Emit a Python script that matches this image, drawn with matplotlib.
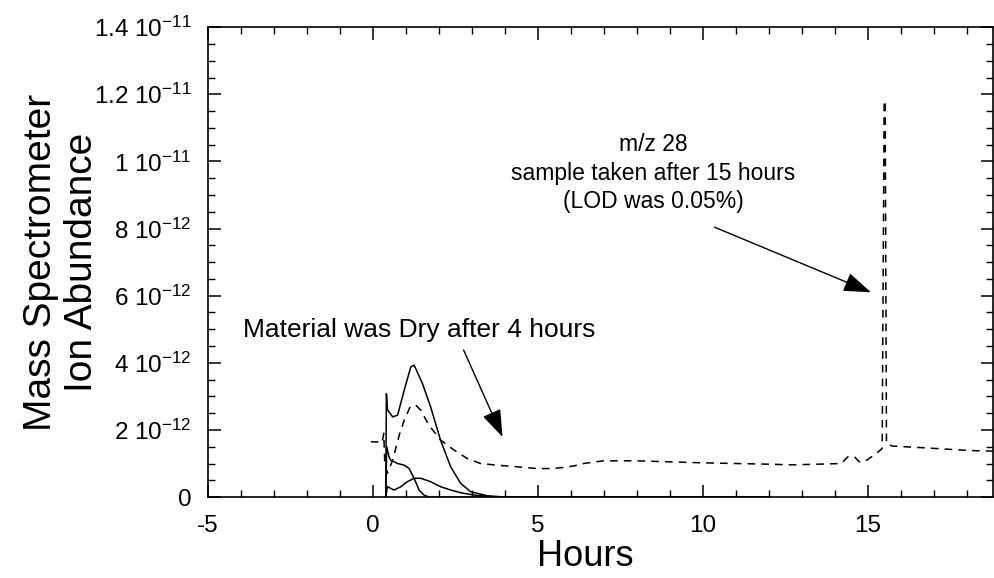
import matplotlib
matplotlib.use("Agg")
import matplotlib.pyplot as plt
import numpy as np

# values, abundance in units of 1e-12
hours_mz28 = [-0.06, 0.15, 0.28, 0.33, 0.36, 0.44, 0.6, 0.8, 0.95, 1.13, 1.3, 1.45, 1.7, 2.05, 2.46,
              2.86, 3.26, 3.77, 4.4, 4.97, 5.4, 5.77, 6.1, 6.38, 6.98, 8.0, 9.0, 10.0, 11.0, 12.0, 12.7,
              13.5, 14.2, 14.4, 14.6, 14.75, 14.9, 15.26, 15.44, 15.5, 15.53, 15.57, 15.74, 16.5,
              17.37, 17.85, 18.3, 18.8]
abund_mz28 = [1.65, 1.64, 1.62, 1.9, 1.0, 0.71, 1.1, 1.85, 2.29, 2.69, 2.74, 2.59, 2.14, 1.7, 1.4,
              1.15, 1.0, 0.95, 0.9, 0.85, 0.85, 0.88, 0.93, 1.0, 1.08, 1.08, 1.05, 1.02, 1.0, 0.98, 0.96,
              0.98, 1.0, 1.2, 1.2, 1.05, 1.05, 1.3, 1.45, 11.8, 11.8, 1.6, 1.52, 1.48,
              1.43, 1.4, 1.38, 1.37]

hours_a = [0.39, 0.41, 0.44, 0.6, 0.75, 0.95, 1.15, 1.25, 1.5, 1.75, 2.05, 2.36, 2.66, 2.96, 3.46, 4.0, 12.0]
abund_a = [0.0, 3.08, 2.6, 2.39, 2.44, 3.19, 3.88, 3.93, 3.39, 2.69, 1.7, 0.9, 0.41, 0.16, 0.04, 0.0, 0.0]

hours_b = [0.39, 0.42, 0.49, 0.54, 0.75, 0.95, 1.1, 1.25, 1.4, 1.55, 1.7, 12.0]
abund_b = [0.0, 1.5, 1.2, 1.1, 1.0, 0.95, 0.85, 0.56, 0.21, 0.06, 0.0, 0.0]

hours_c = [0.39, 0.44, 0.64, 0.85, 1.05, 1.25, 1.45, 1.75, 2.05, 2.36, 2.66, 3.06, 3.6, 12.0]
abund_c = [0.0, 0.31, 0.21, 0.31, 0.46, 0.56, 0.56, 0.46, 0.31, 0.21, 0.13, 0.06, 0.01, 0.0]

x_ticks = [-5, 0, 5, 10, 15]
x_tick_labels = ["-5", "0", "5", "10", "15"]
y_ticks = [0, 2e-12, 4e-12, 6e-12, 8e-12, 1e-11, 1.2e-11, 1.4e-11]
y_tick_labels = ["0", "2 10$^{-12}$", "4 10$^{-12}$", "6 10$^{-12}$", "8 10$^{-12}$",
                 "1 10$^{-11}$", "1.2 10$^{-11}$", "1.4 10$^{-11}$"]

plt.rcParams["font.family"] = ["Liberation Sans", "DejaVu Sans"]
plt.rcParams["mathtext.fontset"] = "custom"
plt.rcParams["mathtext.rm"] = "Liberation Sans"
plt.rcParams["mathtext.it"] = "Liberation Sans:italic"
plt.rcParams["mathtext.bf"] = "Liberation Sans:bold"
plt.rcParams["axes.unicode_minus"] = False

fig, ax = plt.subplots(figsize=(9.95, 5.78), dpi=100)
fig.subplots_adjust(left=0.209, right=0.998, bottom=0.14, top=0.953)

e12 = 1e-12
ax.plot(hours_mz28, np.array(abund_mz28) * e12, color="black", lw=1.1, dashes=(5, 4))
for h, a in [(hours_a, abund_a), (hours_b, abund_b), (hours_c, abund_c)]:
    ax.plot(h, np.array(a) * e12, color="black", lw=1.1)

ax.set_xlim(-5, 18.8)
ax.set_ylim(0, 1.4e-11)
ax.set_xticks(x_ticks)
ax.set_xticklabels(x_tick_labels)
ax.set_xticks(np.arange(-5, 19, 1), minor=True)
ax.set_yticks(y_ticks)
ax.set_yticklabels(y_tick_labels)
ax.set_yticks(np.arange(0, 1.41e-11, 0.5e-12), minor=True)
ax.tick_params(which="both", direction="in", top=True, right=True)
ax.tick_params(which="major", length=9, width=1.1, labelsize=17.5)
ax.tick_params(axis="x", which="major", pad=13)
ax.tick_params(axis="y", which="major", pad=12)
ax.tick_params(which="minor", length=5, width=1.0)
for s in ax.spines.values():
    s.set_linewidth(1.2)

ax.set_xlabel("Hours", fontsize=26)
ax.xaxis.set_label_coords(0.481, -0.09)
ax.set_ylabel("Mass Spectrometer\nIon Abundance", fontsize=28, linespacing=1.2)
ax.yaxis.set_label_coords(-0.137, 0.5)

arrow = dict(arrowstyle="-|>,head_length=0.85,head_width=0.3", mutation_scale=20,
             color="black", lw=1.0, shrinkA=0, shrinkB=0)
ax.annotate("", xy=(3.93, 1.79e-12), xytext=(2.75, 4.38e-12), arrowprops=arrow)
ax.annotate("", xy=(15.1, 6.1e-12), xytext=(10.36, 8.04e-12), arrowprops=arrow)

ax.text(1.41, 4.97e-12, "Material was Dry after 4 hours", ha="center", va="center", fontsize=19)
ax.text(8.49, 9.65e-12, "m/z 28\nsample taken after 15 hours\n(LOD was 0.05%)",
        ha="center", va="center", fontsize=16.5, linespacing=1.3)

fig.savefig("out.png", dpi=100)
